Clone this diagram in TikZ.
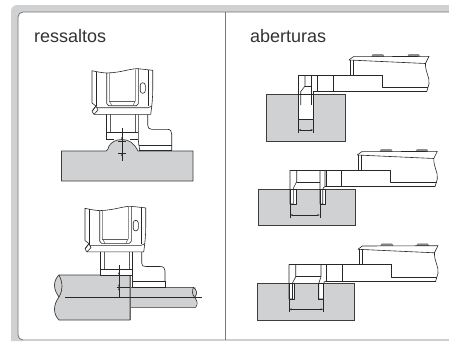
\documentclass[tikz,border=0pt]{standalone}
\usepackage{fontspec}
\setmainfont{Liberation Sans}
\usetikzlibrary{arrows.meta}
\definecolor{bandgray}{RGB}{208,209,211}
\definecolor{framegray}{RGB}{120,120,120}
\definecolor{workgray}{RGB}{208,209,211}
\definecolor{inkgray}{RGB}{40,40,40}
\tikzset{
  ink/.style={draw=inkgray,line width=0.6pt,line join=round},
  fine/.style={draw=inkgray!75,line width=0.5pt},
  heavy/.style={draw=inkgray,line width=0.9pt},
  work/.style={fill=workgray,draw=inkgray!90,line width=0.7pt},
  blank/.style={fill=white,draw=inkgray,line width=0.6pt,line join=round},
  dimen/.style={draw=inkgray,line width=0.45pt},
  dimarrow/.style={draw=inkgray,line width=0.45pt,{Stealth[length=2.6pt,width=1.8pt]}-{Stealth[length=2.6pt,width=1.8pt]}},
  dimdown/.style={draw=inkgray,line width=0.45pt,-{Stealth[length=2.6pt,width=1.8pt]}},
  title/.style={anchor=base west,inner sep=0pt,font=\fontsize{18}{20}\selectfont,text=black!80},
  tab/.style={fill=black!45,draw=inkgray!70,line width=0.35pt},
  headpic/.pic={
    \path[blank] (92,70.7) .. controls (100,72.5) and (105,73) .. (107,73) .. controls (122,72.5) and (130,68.5) .. (138,68.7) -- (152.7,70.3) -- (152.7,90) .. controls (152.7,98) and (152,105) .. (150.7,114.3) -- (94,114.3) -- (92,111.5) -- (96,106) -- (92,103) -- cycle;
    \draw[ink] (96.7,71.5) -- (96.7,106);
    \draw[ink] (148.3,70) -- (148.3,106);
    \draw[ink] (106.7,73) -- (106.7,103.5) -- (108.5,105.7) -- (136.5,105.7) -- (138.3,103.5) -- (138.3,68.7);
    \draw[fine] (109.3,72.5) -- (109.3,101) -- (112,105.7);
    \draw[fine] (135.3,69.5) -- (135.3,101) -- (132.8,105.7);
    \draw[fine] (109.3,101.7) -- (135.3,101.7);
    \draw[ink] (96.7,107.7) -- (148.3,107.7) -- (152,106);
    \draw[ink] (92,111) -- (96,106) -- (98,110) -- (94,114.3);
    \draw[ink,rounded corners=2.6pt] (140.2,82.7) rectangle (145.3,93.3);
  },
  bodypic/.pic={
    \path[tab] (371.7,56.4) -- (372.7,54.6) -- (383,54.6) -- (384,56.4) -- cycle;
    \path[tab] (407.7,56.4) -- (408.7,54.6) -- (418.7,54.6) -- (419.7,56.4) -- cycle;
    \draw[ink] (349,60) -- (353.3,56.7) -- (429,56.4)
      -- (425.5,63.3) .. controls (425,72) and (430,77) .. (429,84) -- (426.7,91.7);
    \draw[ink] (349,60) -- (425.5,63.5);
    \draw[ink] (350,60) -- (350,75);
    \draw[ink] (353.3,60) -- (353.3,75);
    \draw[ink] (317.7,75) -- (350,75);
    \draw[heavy] (350,75) -- (382.3,75);
    \draw[ink] (382.3,75) -- (382.3,87.7) -- (428.2,87.7);
    \draw[ink] (317.7,91.7) -- (426.7,91.7);
    \draw[ink] (333.3,75) -- (333.3,91.7);
    \draw[ink] (317.7,75) -- (317.7,91.7);
  },
}
\begin{document}
\begin{tikzpicture}[x=1pt,y=-1pt]
\useasboundingbox (0,0) rectangle (449,341);
\fill[white] (0,0) rectangle (449,341);
% frame
\fill[bandgray] (449,5) -- (17,5) arc[start angle=90,end angle=180,radius=6pt] -- (11,341) -- (18,341) -- (18,17) arc[start angle=180,end angle=90,radius=5pt] -- (449,12) -- cycle;
\fill[bandgray] (18,330) -- (18,335) arc[start angle=180,end angle=270,radius=5pt] -- (23,341) -- (18,341) -- cycle;
\draw[framegray,line width=0.8pt] (449,12) -- (23,12) arc[start angle=90,end angle=180,radius=5pt] -- (18,335) arc[start angle=180,end angle=270,radius=5pt] -- (449,340);
\draw[framegray,line width=0.9pt] (225.5,12) -- (225.5,340);
% titles
\node[title] (ressaltos) at (34,42.5) {ressaltos};
\node[title] (aberturas) at (250,42.5) {aberturas};

% ---- ressaltos: upper
\path[work] (61.5,151) -- (106,151) .. controls (108,151) and (108,148) .. (109,146) .. controls (111.5,142) and (116,139.5) .. (122,139.5) .. controls (129,139.5) and (134,143) .. (138,151) -- (193,151) -- (193,181) -- (61.5,181) -- cycle;
\draw[ink] (106,114.3) -- (106,139.3);
\draw[ink] (138.3,114.3) -- (138.3,139.3) .. controls (138.3,143) and (139,146) .. (140,150.7);
\draw[fine] (110,114.3) -- (110,132.7);
\draw[fine] (135,114.3) -- (135,132.7);
\draw[ink] (106,132.7) -- (138.3,132.7);
\draw[heavy] (106,139.3) -- (114,139.3);
\draw[heavy] (130,139.3) -- (138.3,139.3);
\draw[ink] (147.7,114.3) -- (147.7,125) .. controls (147.7,128) and (149,129.3) .. (151.7,129.3) -- (167.3,129.3) .. controls (170.5,129.3) and (171.7,131) .. (171.7,134) -- (171.7,150.7);
\draw[ink] (139,145) -- (171.7,145);
\draw[heavy] (139,150.7) -- (171.7,150.7);
\draw[dimen] (122,128) -- (122,161);
\draw[dimen] (118,141.5) -- (126,141.5);
\draw[dimen] (118,153) -- (126,153);
\draw[dimdown] (122,133) -- (122,139.5);
\draw[dimdown] (122,159) -- (122,153.5);
\pic at (0,0) {headpic};

% ---- ressaltos: lower
\path[work] (59,275) .. controls (53,281) and (53,289) .. (59,297) .. controls (53,305) and (53,314) .. (59,320) -- (130,320) -- (130,275) -- cycle;
\path[fill=workgray] (130,287.3) rectangle (195.7,307.3);
\draw[ink] (130,287.3) -- (193.5,287.3) .. controls (197.5,291) and (197.5,294) .. (194.5,297.3) .. controls (197.5,301) and (198,304) .. (195.7,307.3) -- (130,307.3);
\draw[ink] (193.5,287.3) .. controls (192,291) and (192,294) .. (194.5,297.3);
\draw[ink] (59,275) .. controls (63,283) and (63,290) .. (59,297);
\draw[black!60,line width=0.9pt] (130,275) -- (130,320);
\draw[ink] (100,250) -- (100,275);
\draw[ink] (132.3,250) -- (132.3,275);
\draw[fine] (104,250) -- (104,269.5);
\draw[fine] (129,250) -- (129,269.5);
\path[blank] (100,269.5) rectangle (132.3,275);
\draw[ink] (141.7,250) -- (141.7,263) .. controls (141.7,266) and (143,266.5) .. (146,266.5) -- (160,266.5) .. controls (163.5,266.5) and (165,268) .. (165,271) -- (165,287.3);
\draw[ink] (132.3,275) -- (132.3,287.3);
\path[blank] (132.3,281.7) rectangle (165,287.3);
\draw[ink] (65,297.3) -- (201.7,297.3);
\draw[dimen] (119,265) -- (119,298);
\draw[dimen] (116.5,287.3) -- (130,287.3);
\draw[dimdown] (119,270) -- (119,275);
\draw[dimdown] (119,292) -- (119,287.8);
\draw[dimdown] (119,280) -- (119,287);
\pic at (-7,137.6) {headpic};

% ---- aberturas: first
\path[work] (266.7,94.3) rectangle (345.3,141);
\path[blank] (298.3,94.3) -- (298.3,119.3) -- (313.3,119.3) -- (313.3,94.3) -- cycle;
\draw[ink] (298.3,75) -- (317.7,75);
\draw[ink] (298.3,75) -- (298.3,119.3);
\draw[heavy] (298.3,119.3) -- (313.3,119.3);
\draw[ink] (313.3,91.7) -- (313.3,119.3);
\draw[ink] (311.7,75) -- (311.7,105);
\draw[ink] (305,75) -- (305,86) -- (300.7,91.7) -- (300.7,105);
\draw[ink] (305,86) -- (311.7,86);
\draw[ink] (313.3,91.7) -- (317.7,91.7);
\pic at (0,0) {bodypic};
\draw[dimen] (298.3,120) -- (298.3,132.5);
\draw[dimen] (313.3,120) -- (313.3,132.5);
\draw[dimarrow] (298.5,130) -- (313.1,130);

% ---- aberturas: second
\path[work] (258.3,189.3) rectangle (355.7,225.7);
\path[blank] (290,189.3) -- (290,204) -- (296,204) -- (296,189.3) -- cycle;
\path[blank] (320,189.3) -- (320,204) -- (325,204) -- (325,189.3) -- cycle;
\draw[ink] (290,170) -- (326,170);
\draw[ink] (290,170) -- (290,204) -- (293.3,204) -- (293.3,188.3) -- (296.7,181.7) -- (296.7,170);
\draw[ink] (296.7,182.3) -- (320,182.3);
\draw[ink] (320,170) -- (320,204) -- (322.7,204) -- (322.7,190) .. controls (322.7,188) and (324,187) .. (325,186.7) -- (325,170);
\draw[ink] (325,186.7) -- (326,186.7);
\pic at (8.3,95) {bodypic};
\draw[dimen] (290,204) -- (290,217.5);
\draw[dimen] (320,204) -- (320,217.5);
\draw[dimarrow] (290.2,215) -- (319.8,215);

% ---- aberturas: third
\path[work] (257.3,283.7) rectangle (354.7,320);
\path[blank] (289,283.7) -- (289,299) -- (294.5,299) -- (294.5,283.7) -- cycle;
\path[blank] (318.5,283.7) -- (318.5,299) -- (323.5,299) -- (323.5,283.7) -- cycle;
\draw[ink] (289,264.3) -- (326.7,264.3);
\draw[ink] (289,264.3) -- (289,299) -- (292.5,299) -- (292.5,283) -- (295.7,276.7) -- (295.7,264.3);
\draw[ink] (295.7,276.7) -- (321,276.7);
\draw[ink] (321,264.3) -- (321,276.7) -- (318.7,283.5) -- (318.7,299) -- (323.5,299) -- (323.5,284) .. controls (323.5,282) and (325,281) .. (326.3,281) -- (326.3,264.3);
\draw[ink] (326.3,281) -- (326.7,281);
\pic at (9,189.3) {bodypic};
\draw[dimen] (289,299) -- (289,311.7);
\draw[dimen] (323.3,299) -- (323.3,311.7);
\draw[dimarrow] (289.2,309.3) -- (323.1,309.3);
\end{tikzpicture}
\end{document}
